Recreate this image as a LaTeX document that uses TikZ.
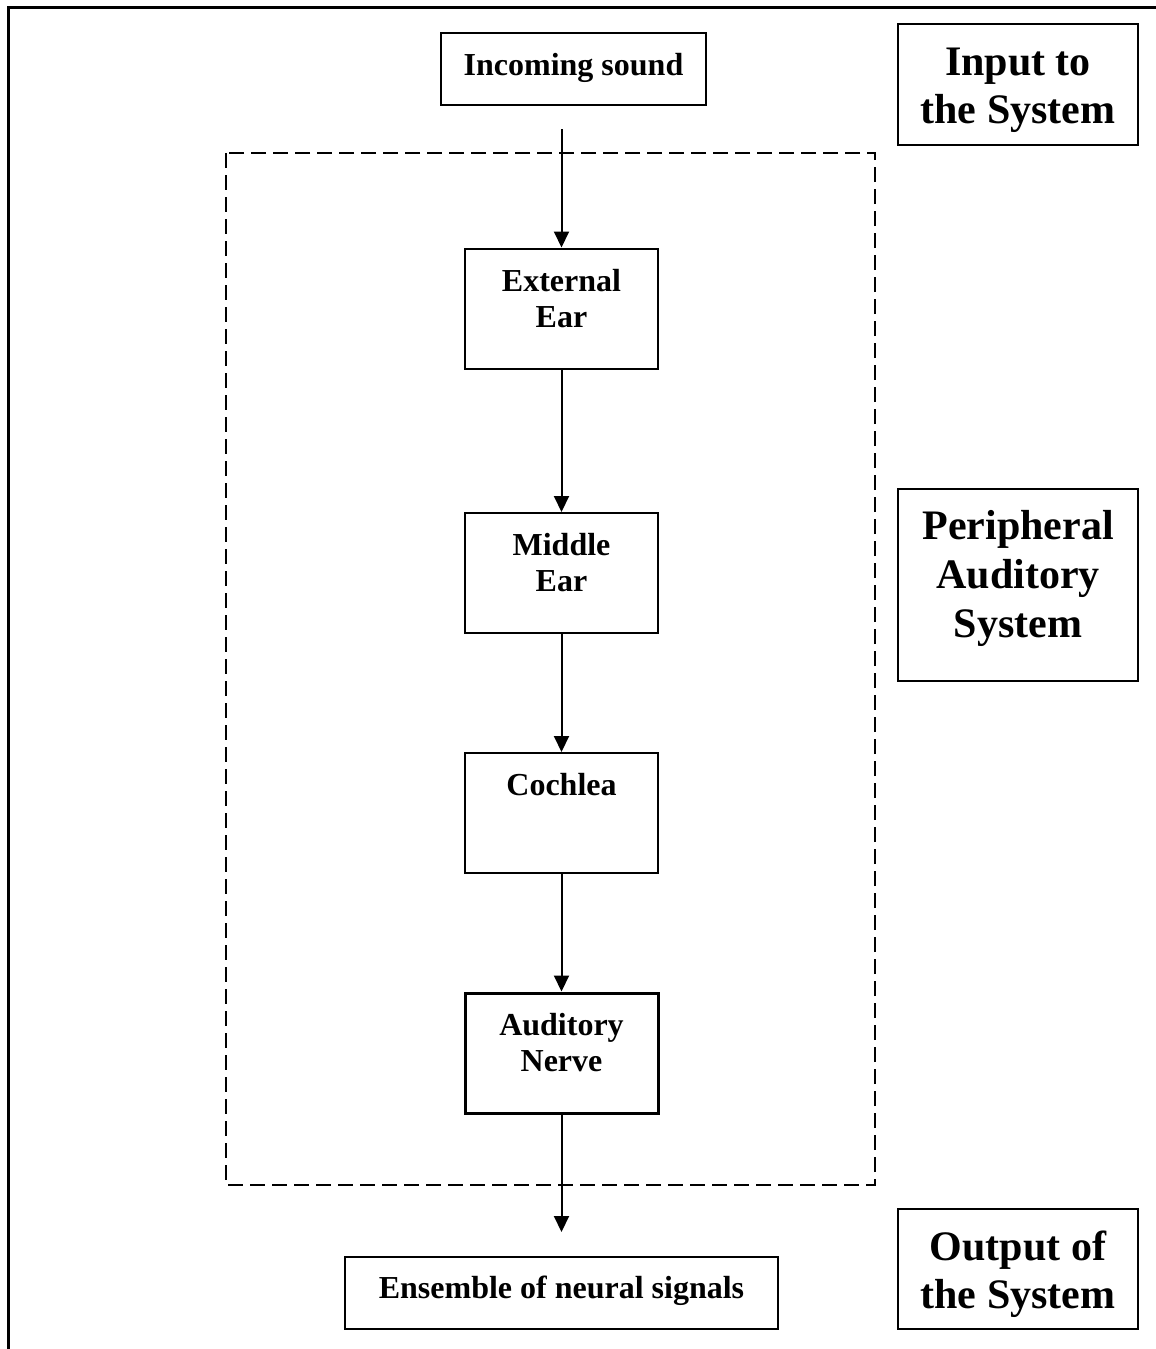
\documentclass[tikz,border=0pt]{standalone}
\usepackage{fontspec}
\setmainfont{Liberation Serif}
\usetikzlibrary{arrows.meta}

\tikzset{
  stagebox/.style={draw, line width=2pt, minimum width=193pt, minimum height=120pt, inner sep=0pt},
  sidebox/.style={draw, line width=2pt, minimum width=240pt, inner sep=0pt},
  endbox/.style={draw, line width=2pt, minimum height=72pt, inner sep=0pt},
  smalltxt/.style={font=\fontsize{32}{37}\selectfont\bfseries, anchor=base, inner sep=0pt},
  bigtxt/.style={font=\fontsize{42}{49}\selectfont\bfseries, anchor=base, inner sep=0pt},
  flow/.style={line width=2pt, -{Triangle[length=16pt,width=15pt]}},
  groupbox/.style={line width=2pt, dash pattern=on 15pt off 7pt}
}

\begin{document}
\begin{tikzpicture}[x=1pt,y=-1pt]
\useasboundingbox (0,0) rectangle (1156,1349);

% page frame (top and left edges)
\draw[line width=2.5pt] (1156,7.5) -- (8.5,7.5) -- (8.5,1349);

% boundary of the peripheral auditory system
\draw[groupbox] (226,153) rectangle (875,1185);

% input and output
\node[endbox, minimum width=265pt] (inbox) at (573.5,69) {};
\node[smalltxt] (intxt) at (573.5,75) {Incoming sound};
\node[endbox, minimum width=433pt] (outbox) at (561.5,1293) {};
\node[smalltxt] (outtxt) at (561.5,1298) {Ensemble of neural signals};

% processing stages
\node[stagebox] (ext) at (561.5,308.5) {};
\node[smalltxt] (ext1) at (561.5,291) {External};
\node[smalltxt] (ext2) at (561.5,327) {Ear};

\node[stagebox] (mid) at (561.5,573) {};
\node[smalltxt] (mid1) at (561.5,555) {Middle};
\node[smalltxt] (mid2) at (561.5,591) {Ear};

\node[stagebox] (coch) at (561.5,813) {};
\node[smalltxt] (coch1) at (561.5,795) {Cochlea};

\node[stagebox, line width=3pt] (nerve) at (561.5,1053) {};
\node[smalltxt] (nerve1) at (561.5,1035) {Auditory};
\node[smalltxt] (nerve2) at (561.5,1071) {Nerve};

% signal flow
\coordinate (src) at (561.5,129);
\coordinate (sink) at (561.5,1232);
\draw[flow] (src) -- (ext.north);
\draw[flow] (ext.south) -- (mid.north);
\draw[flow] (mid.south) -- (coch.north);
\draw[flow] (coch.south) -- (nerve.north);
\draw[flow] (nerve.south) -- (sink);

% stage captions on the right
\node[sidebox, minimum height=121pt] (capin) at (1018,84.5) {};
\node[bigtxt] (capin1) at (1018,75) {Input to};
\node[bigtxt] (capin2) at (1018,123) {the System};

\node[sidebox, minimum height=192pt] (capper) at (1018,585) {};
\node[bigtxt] (capper1) at (1018,539) {Peripheral};
\node[bigtxt] (capper2) at (1018,588) {Auditory};
\node[bigtxt] (capper3) at (1018,637) {System};

\node[sidebox, minimum height=120pt] (capout) at (1018,1269) {};
\node[bigtxt] (capout1) at (1018,1260) {Output of};
\node[bigtxt] (capout2) at (1018,1308) {the System};
\end{tikzpicture}
\end{document}
